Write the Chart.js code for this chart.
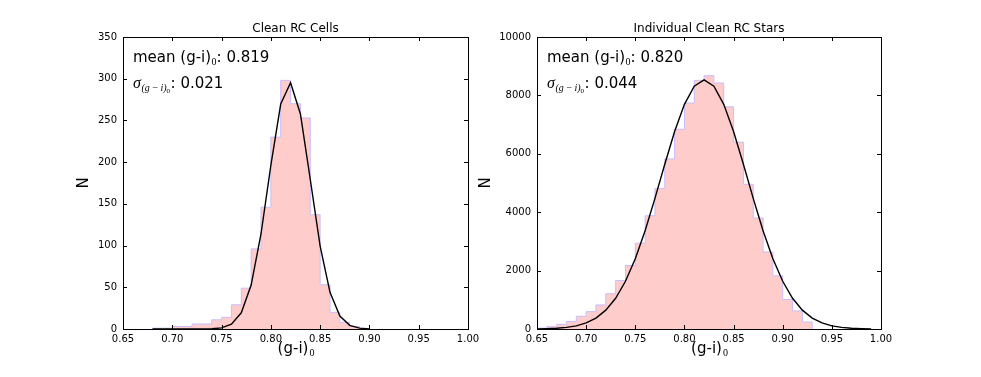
<!DOCTYPE html>
<html>
<head>
<meta charset="utf-8">
<script src="https://cdn.jsdelivr.net/npm/chart.js@4.4.0/dist/chart.umd.min.js"></script>
<style>
  body { margin: 0; background: #fff; }
  #wrap { position: relative; width: 981px; height: 377px; }
  canvas { position: absolute; top: 0; }
</style>
</head>
<body>
<div id="wrap">
  <canvas id="cells" width="500" height="377" style="left:0px"></canvas>
  <canvas id="stars" width="511" height="377" style="left:470px"></canvas>
</div>
<script>
// histogram bin edges (n+1) and counts (n)
var cellEdges = [0.68, 0.69, 0.70, 0.71, 0.72, 0.73, 0.74, 0.75, 0.76, 0.77, 0.78,
  0.79, 0.80, 0.81, 0.82, 0.83, 0.84, 0.85, 0.86, 0.87, 0.88, 0.89]
var cellCounts = [1, 1, 3, 3, 6, 6, 11, 14, 29, 49, 96, 146, 230, 298, 270, 253, 137, 53, 20, 8, 3]

// gaussian fit drawn over the cells histogram
var cellFitX = [0.68, 0.69, 0.70, 0.71, 0.72, 0.73, 0.74, 0.75, 0.76, 0.77, 0.78, 0.79,
  0.80, 0.81, 0.82, 0.83, 0.84, 0.85, 0.86, 0.87, 0.88, 0.89, 0.90]
var cellFitY = [0, 0, 0, 0, 0, 0.04, 0.25, 1.3, 5.7, 19.4, 52.7, 113.9,
  196.3, 269.6, 295.1, 257.7, 179.2, 99.4, 43.9, 15.5, 4.4, 1.0, 0.2]

var starEdges = [0.65, 0.66, 0.67, 0.68, 0.69, 0.70, 0.71, 0.72, 0.73, 0.74, 0.75, 0.76,
  0.77, 0.78, 0.79, 0.80, 0.81, 0.82, 0.83, 0.84, 0.85, 0.86, 0.87, 0.88, 0.89,
  0.90, 0.91, 0.92, 0.93]
var starCounts = [30, 80, 160, 260, 435, 595, 825, 1210, 1660, 2175, 2940, 3880,
  4815, 5825, 6840, 7740, 8515, 8675, 8425, 7610, 6400, 4955, 3800, 2635, 1820,
  1010, 620, 240]

var starFitX = [0.65, 0.66, 0.67, 0.68, 0.69, 0.70, 0.71, 0.72, 0.73, 0.74, 0.75, 0.76,
  0.77, 0.78, 0.79, 0.80, 0.81, 0.82, 0.83, 0.84, 0.85, 0.86, 0.87, 0.88, 0.89,
  0.90, 0.91, 0.92, 0.93, 0.94, 0.95, 0.96, 0.97, 0.98, 0.99]
var starFitY = [5, 12, 26, 54, 109, 207, 375, 645, 1053, 1634, 2406, 3367,
  4473, 5643, 6761, 7693, 8313, 8530, 8313, 7693, 6761, 5643, 4473, 3367, 2406,
  1634, 1053, 645, 375, 207, 109, 54, 26, 12, 5]

var xTicks = [0.65, 0.70, 0.75, 0.80, 0.85, 0.90, 0.95, 1.00]

var SANS = '"DejaVu Sans", sans-serif'
var SERIF = '"Liberation Serif", "DejaVu Serif", serif'

function stepPoints(edges, counts) {
  var pts = [{ x: edges[0], y: 0 }]
  counts.forEach(function (c, i) { pts.push({ x: edges[i], y: c }) })
  pts.push({ x: edges[edges.length - 1], y: 0 })
  return pts
}

// frame, inward ticks and matplotlib-like labels
var decor = {
  id: 'decor',
  afterDraw: function (chart, args, o) {
    var ctx = chart.ctx, a = chart.chartArea
    var xs = chart.scales.x, ys = chart.scales.y
    ctx.save()
    ctx.strokeStyle = '#000'
    ctx.lineWidth = 1
    ctx.beginPath()
    xs.ticks.forEach(function (t) {
      var px = Math.round(xs.getPixelForValue(t.value)) + 0.5
      ctx.moveTo(px, a.bottom); ctx.lineTo(px, a.bottom - 4)
      ctx.moveTo(px, a.top); ctx.lineTo(px, a.top + 4)
    })
    ys.ticks.forEach(function (t) {
      var py = Math.round(ys.getPixelForValue(t.value)) + 0.5
      ctx.moveTo(a.left, py); ctx.lineTo(a.left + 4, py)
      ctx.moveTo(a.right, py); ctx.lineTo(a.right - 4, py)
    })
    ctx.stroke()
    ctx.strokeRect(Math.round(a.left) + 0.5, Math.round(a.top) + 0.5,
      Math.round(a.right - a.left), Math.round(a.bottom - a.top))

    ctx.fillStyle = '#000'
    var cx = (a.left + a.right) / 2
    // title
    ctx.font = '12px ' + SANS
    ctx.textAlign = 'center'
    ctx.textBaseline = 'alphabetic'
    ctx.fillText(o.title, cx, 32)

    // x label (g-i)0
    ctx.textAlign = 'left'
    ctx.font = '15px ' + SANS
    var w1 = ctx.measureText('(g-i)').width
    ctx.font = '10px ' + SERIF
    var w2 = ctx.measureText('0').width
    var x0 = cx - (w1 + w2) / 2
    ctx.font = '15px ' + SANS
    ctx.fillText('(g-i)', x0, 353)
    ctx.font = '10px ' + SERIF
    ctx.fillText('0', x0 + w1 + 1, 356)

    // y label N
    ctx.save()
    ctx.translate(o.nx, (a.top + a.bottom) / 2)
    ctx.rotate(-Math.PI / 2)
    ctx.font = '15px ' + SANS
    ctx.textAlign = 'center'
    ctx.textBaseline = 'middle'
    ctx.fillText('N', 0, 0)
    ctx.restore()

    // annotation: mean
    var tx = a.left + 10
    ctx.font = '15px ' + SANS
    ctx.fillText('mean (g-i)', tx, 61.5)
    tx += ctx.measureText('mean (g-i)').width + 0.5
    ctx.font = '10px ' + SERIF
    ctx.fillText('0', tx, 64.5)
    tx += ctx.measureText('0').width
    ctx.font = '15px ' + SANS
    ctx.fillText(': ' + o.mean, tx, 61.5)

    // annotation: sigma
    tx = a.left + 10
    ctx.font = 'italic 16px ' + SERIF
    ctx.fillText('\u03c3', tx, 87.5)
    tx += ctx.measureText('\u03c3').width + 0.5
    ctx.font = 'italic 10px ' + SERIF
    ctx.fillText('(g\u2009\u2212\u2009i)', tx, 90.5)
    tx += ctx.measureText('(g\u2009\u2212\u2009i)').width
    ctx.font = '7px ' + SERIF
    ctx.fillText('0', tx, 92.5)
    tx += ctx.measureText('0').width + 0.5
    ctx.font = '15px ' + SANS
    ctx.fillText(': ' + o.sigma, tx, 87.5)
    ctx.restore()
  }
}

function makeChart(id, edges, counts, fitX, fitY, yMax, yStep, padRight, axisW, opts) {
  var fit = fitX.map(function (x, i) { return { x: x, y: fitY[i] } })
  return new Chart(document.getElementById(id), {
    type: 'line',
    data: {
      datasets: [
        {
          data: fit,
          borderColor: '#000',
          borderWidth: 1.4,
          pointRadius: 0,
          tension: 0,
          fill: false,
          order: 0
        },
        {
          data: stepPoints(edges, counts),
          stepped: true,
          borderColor: 'rgb(200,190,250)',
          borderWidth: 1,
          backgroundColor: '#ffcccc',
          pointRadius: 0,
          fill: 'origin',
          order: 1
        }
      ]
    },
    options: {
      responsive: false,
      animation: false,
      events: [],
      layout: { padding: { left: 0, top: 37, right: padRight, bottom: 0 } },
      plugins: { legend: { display: false }, tooltip: { enabled: false }, decor: opts },
      scales: {
        x: {
          type: 'linear',
          min: 0.65,
          max: 1.00,
          afterBuildTicks: function (s) { s.ticks = xTicks.map(function (v) { return { value: v } }) },
          afterFit: function (s) { s.height = 48 },
          grid: { display: false, drawTicks: false },
          border: { display: false },
          ticks: {
            padding: 4,
            color: '#000',
            font: { size: 10, family: SANS },
            maxRotation: 0,
            callback: function (v) { return v.toFixed(2) }
          }
        },
        y: {
          min: 0,
          max: yMax,
          afterFit: function (s) { s.width = axisW },
          grid: { display: false, drawTicks: false },
          border: { display: false },
          ticks: {
            stepSize: yStep,
            padding: 6,
            color: '#000',
            font: { size: 10, family: SANS },
            callback: function (v) { return String(v) }
          }
        }
      }
    },
    plugins: [decor]
  })
}

makeChart('cells', cellEdges, cellCounts, cellFitX, cellFitY, 350, 50, 32, 123,
  { title: 'Clean RC Cells', mean: '0.819', sigma: '0.021', nx: 84 })
makeChart('stars', starEdges, starCounts, starFitX, starFitY, 10000, 2000, 100, 67,
  { title: 'Individual Clean RC Stars', mean: '0.820', sigma: '0.044', nx: 16 })
</script>
</body>
</html>
